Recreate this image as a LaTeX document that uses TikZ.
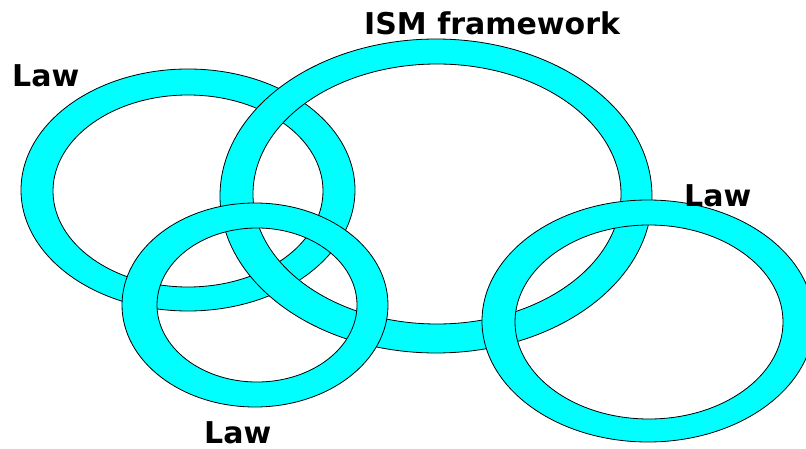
\documentclass[tikz,border=0pt]{standalone}
\usepackage{fontspec}
\setmainfont{DejaVu Sans}
\definecolor{ringcyan}{RGB}{0,255,255}
\tikzset{
  ringfill/.style={fill=ringcyan, even odd rule},
  ringedge/.style={draw=black, line width=0.8pt},
  label/.style={inner sep=0pt, anchor=base west, font=\fontsize{30}{36}\selectfont\bfseries, text=black}
}
% \ringshape{center}{outer rx}{outer ry}{inner center}{inner rx}{inner ry}
\newcommand\ringshape[6]{%
  \fill[ringfill] #1 ellipse [x radius=#2, y radius=#3] #4 ellipse [x radius=#5, y radius=#6];
  \draw[ringedge] #1 ellipse [x radius=#2, y radius=#3];
  \draw[ringedge] #4 ellipse [x radius=#5, y radius=#6];
}
\begin{document}
\begin{tikzpicture}[x=1pt, y=-1pt]
  \useasboundingbox (0,0) rectangle (806,449);
  % rings, back to front
  \ringshape{(188,190)}{167}{121}{(188,191)}{135}{96}
  \ringshape{(436,196)}{216}{157}{(437,194)}{184}{130}
  \ringshape{(255,305)}{133}{102}{(257,305)}{100}{77}
  \ringshape{(648,321)}{166}{121}{(649,322)}{134}{97}
  % captions
  \node[label] (lawA) at (12,87) {Law};
  \node[label] (ism) at (364,35) {ISM framework};
  \node[label] (lawD) at (684,207) {Law};
  \node[label] (lawC) at (204,443) {Law};
\end{tikzpicture}
\end{document}
